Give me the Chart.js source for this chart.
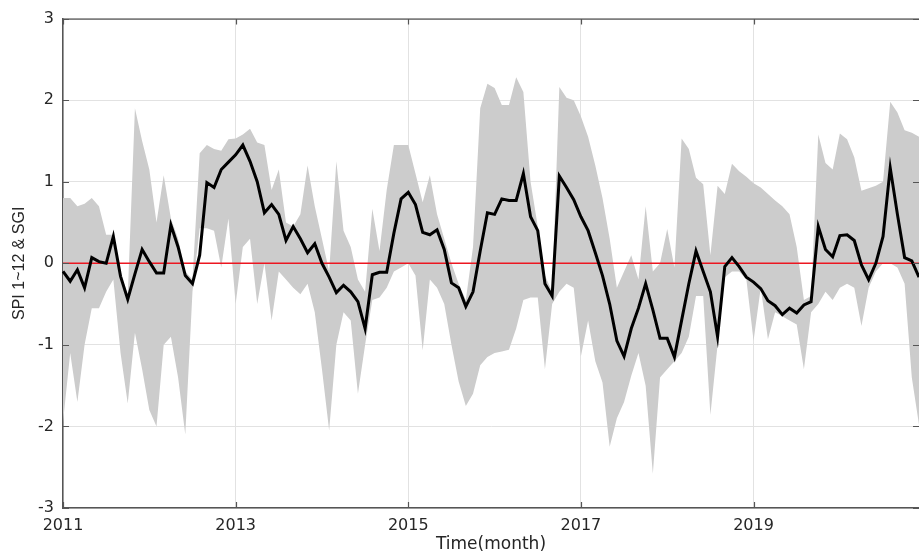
<!DOCTYPE html>
<html>
<head>
<meta charset="utf-8">
<script src="https://cdn.jsdelivr.net/npm/chart.js@4/dist/chart.umd.min.js"></script>
<style>
  html, body { margin: 0; padding: 0; background: #fff; overflow: hidden; }
  canvas { display: block; }
</style>
</head>
<body>
<canvas id="c" width="927" height="560"></canvas>
<script>
// Monthly categories, Jan 2011 .. Dec 2020
const months = [];
for (let yr = 2011; yr <= 2020; yr++) {
  for (let m = 1; m <= 12; m++) months.push(yr + '-' + String(m).padStart(2, '0'));
}

// Labelled years on the time axis
const yearTicks = ['2011', '2013', '2015', '2017', '2019'];

// SGI (black line)
const sgi = [
  -0.10, -0.22, -0.08, -0.30, 0.07, 0.02, 0.00, 0.33, -0.16, -0.44, -0.13, 0.17,
  0.02, -0.12, -0.12, 0.47, 0.20, -0.15, -0.25, 0.10, 0.99, 0.93, 1.15, 1.24,
  1.33, 1.45, 1.25, 1.00, 0.62, 0.72, 0.60, 0.28, 0.45, 0.30, 0.13, 0.24,
  0.00, -0.17, -0.36, -0.27, -0.35, -0.47, -0.80, -0.14, -0.11, -0.11, 0.37, 0.79,
  0.87, 0.72, 0.38, 0.35, 0.41, 0.17, -0.24, -0.30, -0.53, -0.35, 0.15, 0.62,
  0.60, 0.79, 0.77, 0.77, 1.10, 0.57, 0.40, -0.25, -0.40, 1.07, 0.93, 0.78,
  0.57, 0.40, 0.13, -0.15, -0.50, -0.95, -1.14, -0.80, -0.55, -0.25, -0.57, -0.92,
  -0.92, -1.15, -0.70, -0.25, 0.15, -0.10, -0.35, -0.90, -0.04, 0.07, -0.04, -0.17,
  -0.23, -0.31, -0.46, -0.52, -0.63, -0.55, -0.61, -0.51, -0.47, 0.45, 0.17, 0.08,
  0.34, 0.35, 0.28, -0.02, -0.20, 0.00, 0.33, 1.17, 0.60, 0.07, 0.03, -0.17
];

// SPI 1~12 envelope: maximum over the 12 time scales
const spiMax = [
  0.80, 0.80, 0.70, 0.73, 0.80, 0.70, 0.35, 0.35, -0.10, -0.40, 1.90, 1.50,
  1.15, 0.50, 1.08, 0.55, 0.30, -0.10, -0.20, 1.35, 1.45, 1.40, 1.38, 1.52,
  1.53, 1.58, 1.65, 1.48, 1.45, 0.90, 1.15, 0.50, 0.45, 0.60, 1.20, 0.70,
  0.30, -0.10, 1.25, 0.40, 0.20, -0.20, -0.35, 0.67, 0.15, 0.90, 1.45, 1.45,
  1.45, 1.10, 0.75, 1.08, 0.60, 0.30, 0.00, -0.25, -0.45, 0.20, 1.90, 2.20,
  2.15, 1.94, 1.94, 2.28, 2.10, 1.00, 0.45, -0.15, -0.35, 2.16, 2.03, 2.00,
  1.80, 1.55, 1.20, 0.80, 0.30, -0.30, -0.10, 0.10, -0.20, 0.70, -0.10, 0.00,
  0.42, -0.05, 1.53, 1.40, 1.05, 0.97, 0.10, 0.95, 0.85, 1.22, 1.13, 1.06,
  0.98, 0.93, 0.85, 0.77, 0.70, 0.60, 0.20, -0.45, -0.40, 1.58, 1.23, 1.15,
  1.59, 1.52, 1.30, 0.89, 0.92, 0.95, 1.00, 1.98, 1.85, 1.63, 1.60, 1.55
];

// SPI 1~12 envelope: minimum over the 12 time scales
const spiMin = [
  -1.95, -1.10, -1.70, -1.00, -0.55, -0.55, -0.35, -0.20, -1.10, -1.72, -0.85, -1.30,
  -1.80, -2.00, -1.00, -0.90, -1.40, -2.10, -0.35, 0.43, 0.43, 0.40, -0.05, 0.55,
  -0.50, 0.20, 0.30, -0.50, 0.00, -0.70, -0.10, -0.20, -0.30, -0.38, -0.25, -0.60,
  -1.30, -2.05, -1.00, -0.60, -0.70, -1.60, -1.00, -0.45, -0.42, -0.30, -0.10, -0.05,
  0.00, -0.15, -1.07, -0.20, -0.30, -0.50, -1.00, -1.45, -1.75, -1.60, -1.25, -1.15,
  -1.10, -1.08, -1.06, -0.80, -0.45, -0.42, -0.42, -1.30, -0.50, -0.35, -0.25, -0.30,
  -1.14, -0.70, -1.20, -1.46, -2.25, -1.90, -1.70, -1.38, -1.10, -1.50, -2.58, -1.40,
  -1.30, -1.20, -1.10, -0.90, -0.40, -0.40, -1.86, -1.00, -0.17, -0.10, -0.10, -0.20,
  -0.95, -0.30, -0.93, -0.60, -0.65, -0.70, -0.75, -1.30, -0.60, -0.50, -0.35, -0.45,
  -0.30, -0.25, -0.30, -0.77, -0.30, -0.10, 0.00, 0.00, -0.05, -0.25, -1.40, -1.98
];

// Reference level
const referenceLevel = 0;

const TEXT = '#262626';
const AXIS = '#555555';
const GRID = '#e2e2e2';
const tickFont = { family: '"DejaVu Sans", sans-serif', size: 16 };

function yearLabelAt(i) {
  const lab = months[i];
  if (!lab || !lab.endsWith('-01')) return '';
  const yr = lab.slice(0, 4);
  return yearTicks.includes(yr) ? yr : '';
}

// Box outline on the top edge and MATLAB-style inward tick marks
const axisFrame = {
  id: 'axisFrame',
  afterDraw(chart) {
    const { ctx, chartArea: a, scales: { x, y } } = chart;
    const len = 6;
    ctx.save();
    ctx.strokeStyle = AXIS;
    ctx.lineWidth = 1.2;
    ctx.beginPath();
    ctx.moveTo(a.left, a.top + 0.5);
    ctx.lineTo(a.right, a.top + 0.5);
    y.ticks.forEach(t => {
      const py = Math.round(y.getPixelForValue(t.value)) + 0.5;
      ctx.moveTo(a.left, py); ctx.lineTo(a.left + len, py);
      ctx.moveTo(a.right, py); ctx.lineTo(a.right - len, py);
    });
    yearTicks.forEach(yr => {
      const idx = months.indexOf(yr + '-01');
      const px = Math.round(x.getPixelForValue(idx)) + 0.5;
      ctx.moveTo(px, a.bottom); ctx.lineTo(px, a.bottom - len);
      ctx.moveTo(px, a.top); ctx.lineTo(px, a.top + len);
    });
    ctx.stroke();
    ctx.restore();
  }
};

new Chart(document.getElementById('c'), {
  type: 'line',
  data: {
    labels: months,
    datasets: [
      {
        label: 'SGI',
        data: sgi,
        borderColor: '#000000',
        borderWidth: 3,
        pointRadius: 0,
        tension: 0,
        fill: false,
        order: 0
      },
      {
        label: 'zero',
        data: [{ x: months[0], y: referenceLevel }, { x: months[months.length - 1], y: referenceLevel }],
        borderColor: 'rgb(236, 22, 32)',
        borderWidth: 1.5,
        pointRadius: 0,
        fill: false,
        order: 1
      },
      {
        label: 'SPI max',
        data: spiMax,
        borderWidth: 0,
        borderColor: 'rgba(0,0,0,0)',
        backgroundColor: 'rgb(204, 204, 204)',
        pointRadius: 0,
        tension: 0,
        fill: '+1',
        order: 2
      },
      {
        label: 'SPI min',
        data: spiMin,
        borderWidth: 0,
        borderColor: 'rgba(0,0,0,0)',
        pointRadius: 0,
        tension: 0,
        fill: false,
        order: 3
      }
    ]
  },
  options: {
    responsive: false,
    animation: false,
    events: [],
    layout: { padding: { left: 0, right: 0, top: 10, bottom: 3 } },
    plugins: {
      legend: { display: false },
      tooltip: { enabled: false },
      filler: { propagate: false }
    },
    scales: {
      x: {
        type: 'category',
        offset: false,
        border: { display: true, color: AXIS, width: 1.5 },
        grid: {
          drawTicks: false,
          color: c => (yearLabelAt(c.index) ? GRID : 'rgba(0,0,0,0)'),
          lineWidth: 1
        },
        ticks: {
          autoSkip: false,
          maxRotation: 0,
          minRotation: 0,
          padding: 8,
          color: TEXT,
          font: tickFont,
          callback: (v, i) => yearLabelAt(i)
        },
        title: {
          display: true,
          text: 'Time(month)',
          color: TEXT,
          font: { family: '"DejaVu Sans", sans-serif', size: 17 },
          padding: { top: 0, bottom: 2 }
        },
        afterFit(s) { s.height = 49; }
      },
      y: {
        min: -3,
        max: 3,
        border: { display: true, color: AXIS, width: 1.5 },
        grid: { drawTicks: false, color: GRID, lineWidth: 1 },
        ticks: {
          stepSize: 1,
          padding: 9,
          color: TEXT,
          font: tickFont
        },
        title: {
          display: true,
          text: 'SPI 1~12 & SGI',
          color: TEXT,
          font: { family: '"Liberation Sans", Arial, sans-serif', size: 16 },
          padding: { top: 10, bottom: 0 }
        },
        afterFit(s) { s.width = 63; }
      }
    }
  },
  plugins: [axisFrame]
});
</script>
</body>
</html>
